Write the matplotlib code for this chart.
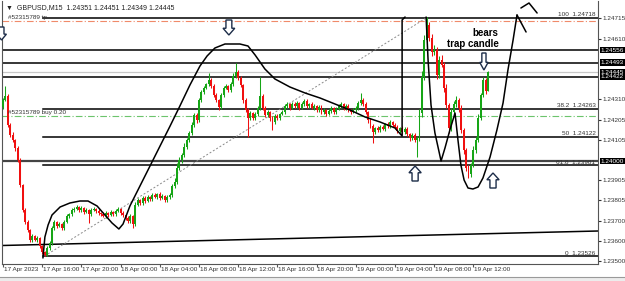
import numpy as np
import matplotlib.pyplot as plt
import matplotlib.transforms as mtransforms
from matplotlib.patches import Polygon, Rectangle
from matplotlib.lines import Line2D

plt.rcParams['font.family'] = ['Liberation Sans', 'DejaVu Sans']

# GBPUSD M15, prices in points (1 point = 0.00001)
first_open = 124270
closes = [
    124306, 124326, 124181, 124131, 124106, 124066, 124006, 123881, 123756, 123696,
    123656, 123606, 123626, 123606, 123616, 123576, 123546, 123531, 123566, 123591,
    123666, 123696, 123676, 123686, 123666, 123696, 123726, 123736, 123756, 123761,
    123771, 123756, 123766, 123746, 123756, 123736, 123756, 123761, 123751, 123741,
    123736, 123726, 123741, 123731, 123746, 123736, 123751, 123761, 123741, 123731,
    123716, 123701, 123726, 123686, 123781, 123806, 123791, 123816, 123801, 123821,
    123811, 123831, 123821, 123836, 123816, 123826, 123806, 123821, 123831, 123876,
    123896, 123966, 124006, 124031, 124071, 124106, 124141, 124181, 124231, 124206,
    124306, 124346, 124366, 124386, 124406, 124376, 124331, 124306, 124271, 124331,
    124366, 124376, 124356, 124386, 124426, 124446, 124416, 124381, 124306, 124256,
    124216, 124241, 124216, 124236, 124266, 124326, 124266, 124231, 124246, 124216,
    124196, 124226, 124216, 124236, 124246, 124276, 124286, 124266, 124286, 124276,
    124291, 124266, 124286, 124301, 124276, 124286, 124266, 124276, 124256, 124271,
    124246, 124256, 124236, 124251, 124266, 124246, 124261, 124276, 124286, 124266,
    124276, 124256, 124246, 124256, 124266, 124291, 124306, 124286, 124246, 124206,
    124176, 124146, 124166, 124156, 124171, 124161, 124186, 124176, 124196, 124181,
    124171, 124151, 124166, 124146, 124161, 124136, 124116, 124131, 124106, 124116,
    124241, 124421, 124606, 124681, 124616, 124546, 124556, 124431, 124506, 124481,
    124366, 124281, 124166, 124246, 124286, 124306, 124266, 124156, 124056, 123966,
    123936, 123981, 124056, 124106, 124216, 124331, 124406, 124351, 124445,
]
upper_wick = [
    10, 50, 8, 12, 15, 6, 10, 8, 5, 12,
    8, 6, 10, 5, 8, 6, 4, 5, 8, 10,
    12, 8, 6, 10, 5, 12, 8, 6, 10, 8,
    12, 6, 8, 5, 10, 6, 8, 12, 5, 8,
    6, 10, 8, 5, 12, 6, 8, 10, 5, 8,
    6, 10, 8, 5, 15, 10, 6, 12, 8, 10,
    6, 8, 12, 5, 10, 8, 6, 10, 8, 12,
    20, 25, 15, 10, 20, 12, 10, 15, 12, 10,
    12, 8, 10, 6, 35, 10, 8, 12, 6, 10,
    8, 12, 6, 10, 15, 45, 8, 10, 6, 12,
    8, 10, 6, 8, 12, 95, 8, 10, 12, 6,
    10, 8, 12, 6, 10, 8, 12, 6, 10, 8,
    12, 6, 10, 8, 12, 6, 10, 8, 6, 10,
    8, 12, 6, 10, 8, 6, 12, 8, 10, 6,
    10, 8, 6, 12, 8, 10, 35, 8, 10, 6,
    8, 10, 6, 12, 8, 10, 6, 8, 12, 6,
    10, 8, 6, 12, 8, 10, 6, 8, 10, 12,
    20, 30, 25, 40, 15, 20, 25, 15, 20, 25,
    15, 20, 12, 18, 15, 20, 10, 15, 12, 10,
    15, 12, 18, 15, 20, 12, 15, 10, 6,
]
lower_wick = [
    8, 6, 12, 10, 8, 15, 10, 12, 8, 10,
    12, 8, 10, 6, 8, 12, 8, 5, 6, 10,
    8, 10, 12, 6, 10, 8, 6, 12, 8, 10,
    6, 8, 10, 12, 6, 45, 8, 6, 10, 8,
    12, 6, 8, 10, 6, 12, 8, 6, 10, 8,
    10, 12, 8, 20, 8, 6, 12, 8, 10, 6,
    8, 10, 6, 12, 8, 6, 10, 8, 12, 10,
    12, 10, 8, 15, 10, 12, 8, 10, 12, 15,
    10, 8, 12, 6, 10, 8, 12, 10, 15, 8,
    10, 6, 12, 8, 10, 8, 12, 10, 15, 12,
    95, 10, 12, 8, 10, 12, 8, 10, 12, 15,
    40, 10, 8, 12, 6, 10, 8, 12, 6, 10,
    8, 12, 6, 10, 8, 12, 6, 10, 8, 12,
    10, 8, 12, 6, 10, 8, 12, 6, 10, 8,
    12, 8, 10, 6, 12, 8, 10, 8, 12, 15,
    12, 55, 10, 8, 12, 6, 10, 8, 12, 10,
    8, 12, 10, 8, 12, 10, 15, 12, 10, 85,
    15, 20, 15, 10, 15, 20, 15, 20, 15, 12,
    20, 15, 25, 15, 10, 15, 20, 15, 20, 15,
    20, 15, 12, 15, 10, 12, 10, 15, 2,
]

time_ticks = [0, 16, 32, 48, 64, 80, 96, 112, 128, 144, 160, 176, 192]
time_labels = ["17 Apr 2023", "17 Apr 16:00", "17 Apr 20:00", "18 Apr 00:00",
               "18 Apr 04:00", "18 Apr 08:00", "18 Apr 12:00", "18 Apr 16:00",
               "18 Apr 20:00", "19 Apr 00:00", "19 Apr 04:00", "19 Apr 08:00",
               "19 Apr 12:00"]
price_ticks = [1.23500, 1.23600, 1.23700, 1.23805, 1.23905, 1.24105,
               1.24205, 1.24310, 1.24610, 1.24715]
level_boxes = [1.24556, 1.24493, 1.24445, 1.24422, 1.24000]
full_lines = [1.24556, 1.24493, 1.24422]
fib_levels = [("100", 1.24718), ("38.2", 1.24263), ("50", 1.24122),
              ("61.8", 1.23981), ("0", 1.23526)]
fib_start = 16.5
bid = 1.24445
tp_price = 1.24701
buy_price = 1.24228
trend = [(-0.4, 1.235785), (242.9, 1.23651)]

# hand drawn sketches (bar index, price points)
sketch_a = [(16.3, 123516), (17.1, 123621), (18.4, 123681), (20.0, 123731), (23.3, 123771),
            (27.3, 123791), (31.4, 123801), (34.7, 123801), (38.4, 123776), (41.6, 123731),
            (44.5, 123691), (47.3, 123661), (49.0, 123686), (51.8, 123776), (55.9, 123876),
            (60.0, 123976), (64.1, 124076), (68.2, 124176), (72.2, 124276), (76.3, 124381),
            (80.4, 124476), (83.3, 124526), (86.5, 124566), (90.6, 124586), (96.7, 124586),
            (100.0, 124576), (102.9, 124531), (106.9, 124461), (111.0, 124411), (117.1, 124371),
            (123.3, 124341), (129.4, 124316), (135.5, 124286), (141.6, 124256), (147.8, 124221),
            (153.9, 124196), (160.0, 124166), (162.9, 124126), (162.9, 124706), (164.1, 124721)]
sketch_b = [(172.7, 124721), (173.5, 124506), (174.7, 124281), (176.3, 124141), (178.0, 124046),
            (178.8, 124001), (180.4, 124066), (182.4, 124156), (184.5, 124241), (185.7, 124106),
            (186.9, 123981), (188.2, 123906), (189.8, 123866), (191.8, 123861), (193.9, 123871),
            (195.9, 123916), (198.8, 124021), (201.6, 124156), (204.1, 124291), (206.1, 124456),
            (208.2, 124606), (209.8, 124731)]
barb = [(209.8, 124731), (213.5, 124646)]
caret = [(211.4, 124766), (214.7, 124791), (218.0, 124741)]

# hollow arrows: centre bar, tail price, head price, half width (bars)
arrows = [(92.2, 124706, 124631, 2.4), (196.3, 124541, 124456, 1.7),
          (-0.6, 124671, 124606, 2.0), (168.2, 123901, 123976, 2.5),
          (200.0, 123866, 123941, 2.5)]

p = 1e-5
c = np.array(closes) * p
o = np.r_[first_open * p, c[:-1]]
hi = np.maximum(o, c) + np.array(upper_wick) * p
lo = np.minimum(o, c) - np.array(lower_wick) * p
idx = np.arange(len(c))
cols = np.where(c >= o, "#16a516", "#f01010")

fig = plt.figure(figsize=(6.25, 2.81), dpi=100)
ax = fig.add_axes([2 / 625, 1 - 264 / 281, 596 / 625, 263 / 281])
ax.set_xlim(-0.41, 242.86)
ax.set_ylim(1.23486, 1.24801)

ax.vlines(idx, lo, hi, colors=cols, lw=0.75, zorder=3)
ax.bar(idx, np.maximum(np.abs(c - o), 1e-5), bottom=np.minimum(o, c), width=0.78,
       color=cols, lw=0, zorder=3)

# levels
for y in full_lines:
    ax.axhline(y, color="black", lw=1.1, zorder=2)
ax.axhline(1.24000, color="#444444", lw=1.6, zorder=2)
ax.axhline(bid, color="#c8c8c8", lw=0.9, zorder=1)
ax.plot([t[0] for t in trend], [t[1] for t in trend], color="black", lw=1.1, zorder=2)
for name, y in fib_levels:
    ax.plot([fib_start, 242.86], [y, y], color="black", lw=1.1, zorder=2)
    ax.text(241.8, y + 0.00002, f"{name}  {y:.5f}", fontsize=4.6, color="#333333",
            ha="right", va="bottom", zorder=5)
ax.plot([17, 173], [1.23526, 1.24718], color="#8a8a8a", lw=0.7, ls=(0, (2, 2)), zorder=2)
ax.axhline(tp_price, color="#f08a6a", lw=0.8, ls=(0, (6, 2, 1, 2)), zorder=2)
ax.axhline(buy_price, color="#6cc46c", lw=0.8, ls=(0, (6, 2, 1, 2)), zorder=2)
ax.text(2, tp_price + 0.00003, "#52315789 tp", fontsize=4.6, color="#333333", va="bottom")
ax.text(2, buy_price + 0.00003, "#52315789 buy 0.20", fontsize=4.6, color="#333333", va="bottom")

# sketches
for s in (sketch_a, sketch_b, barb, caret):
    ax.plot([q[0] for q in s], [q[1] * p for q in s], color="black", lw=1.1,
            solid_joinstyle="round", solid_capstyle="round", zorder=6)

for xc, tail, head, hw in arrows:
    t, h = tail * p, head * p
    neck = t + (h - t) * 0.55
    sw = hw * 0.5
    poly = [(xc - sw, t), (xc + sw, t), (xc + sw, neck), (xc + hw, neck), (xc, h),
            (xc - hw, neck), (xc - sw, neck)]
    ax.add_patch(Polygon(poly, closed=True, fc="white", ec="#1c2c48", lw=1.0, zorder=7,
                         clip_on=False))

ax.text(196.7, 1.24641, "bears", fontsize=7, fontweight="bold", ha="center", va="center", zorder=8)
ax.text(191.8, 1.24586, "trap candle", fontsize=7, fontweight="bold", ha="center", va="center", zorder=8)

# axes styling
for side in ("left", "bottom", "right"):
    ax.spines[side].set_color("#555555")
    ax.spines[side].set_linewidth(0.8)
ax.spines["top"].set_visible(False)
ax.yaxis.tick_right()
ax.set_yticks(price_ticks)
ax.set_yticklabels([f"{t:.5f}" for t in price_ticks])
ax.tick_params(axis="y", labelsize=4.6, length=2, pad=1.5, colors="#333333")
ax.set_xticks(time_ticks)
ax.tick_params(axis="x", length=2, labelbottom=False, colors="#555555")
tr = mtransforms.blended_transform_factory(ax.transData, ax.transAxes)
for b, lab in zip(time_ticks, time_labels):
    ax.text(b + 0.3, -0.012, lab, transform=tr, fontsize=4.6, color="#333333",
            ha="left", va="top", clip_on=False)

tr_y = mtransforms.blended_transform_factory(ax.transAxes, ax.transData)
for y in level_boxes:
    ax.text(1.0045, y, f"{y:.5f}", transform=tr_y, fontsize=4.6, color="white",
            ha="left", va="center", clip_on=False, zorder=9,
            bbox=dict(boxstyle="square,pad=0.12", fc="black", ec="none"))

fig.text(6 / 625, 1 - 8 / 281, "\u25bc  GBPUSD,M15  1.24351 1.24451 1.24349 1.24445",
         fontsize=5, va="center", color="#222222")
fig.add_artist(Line2D([0, 1], [1 - 277 / 281] * 2, color="#9a9a9a", lw=0.8))
fig.add_artist(Rectangle((0, 0), 1, 1 - 277.5 / 281, color="#ececec", lw=0))

fig.savefig("out.png", dpi=100)
